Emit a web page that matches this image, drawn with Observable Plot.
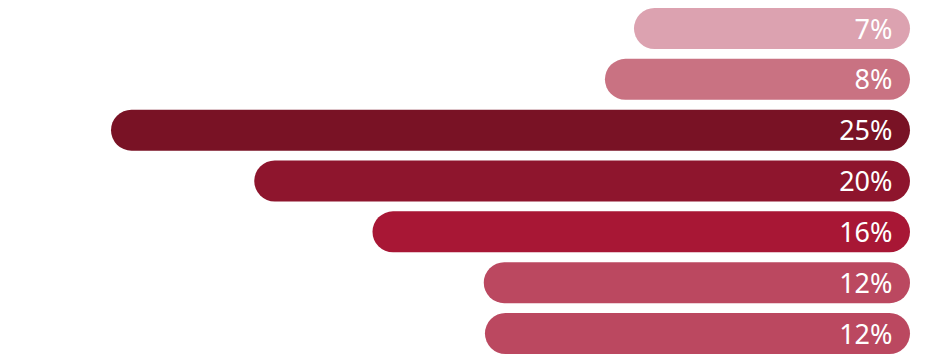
<!DOCTYPE html>
<html>
<head>
<meta charset="utf-8">
<script src="https://cdn.jsdelivr.net/npm/d3@7"></script>
<script src="https://cdn.jsdelivr.net/npm/@observablehq/plot@0.6"></script>
<style>
  html, body { margin: 0; padding: 0; background: #fff; }
  #chart svg { display: block; }
</style>
</head>
<body>
<div id="chart"></div>
<script>
const categories = ["Item 1", "Item 2", "Item 3", "Item 4", "Item 5", "Item 6", "Item 7"];
const values = [7, 8, 25, 20.07, 16, 12.17, 12.13];
const colors = ["#dca2b0", "#c97282", "#791225", "#8e152d", "#a81735", "#bb4860", "#bb4860"];
const baseValue = -2.5;

const data = categories.map((c, i) => ({ category: c, value: values[i], label: Math.round(values[i]) + "%" }));

const chart = Plot.plot({
  width: 925,
  height: 362,
  marginTop: 8,
  marginBottom: 8,
  marginLeft: 111,
  marginRight: 15,
  x: { domain: [baseValue, 25], reverse: true, axis: null },
  y: { domain: categories, paddingInner: 0.193, paddingOuter: 0, round: false, axis: null },
  color: { domain: categories, range: colors },
  marks: [
    Plot.rectX(data, { y: "category", x1: () => baseValue, x2: "value", fill: "category", rx: 20.5 }),
    Plot.text(data, {
      y: "category", x: () => baseValue, text: "label", textAnchor: "end", dx: -18,
      fill: "white", fontSize: 27, fontFamily: "Noto Sans", dy: 1
    })
  ]
});
document.getElementById("chart").appendChild(chart);
</script>
</body>
</html>
